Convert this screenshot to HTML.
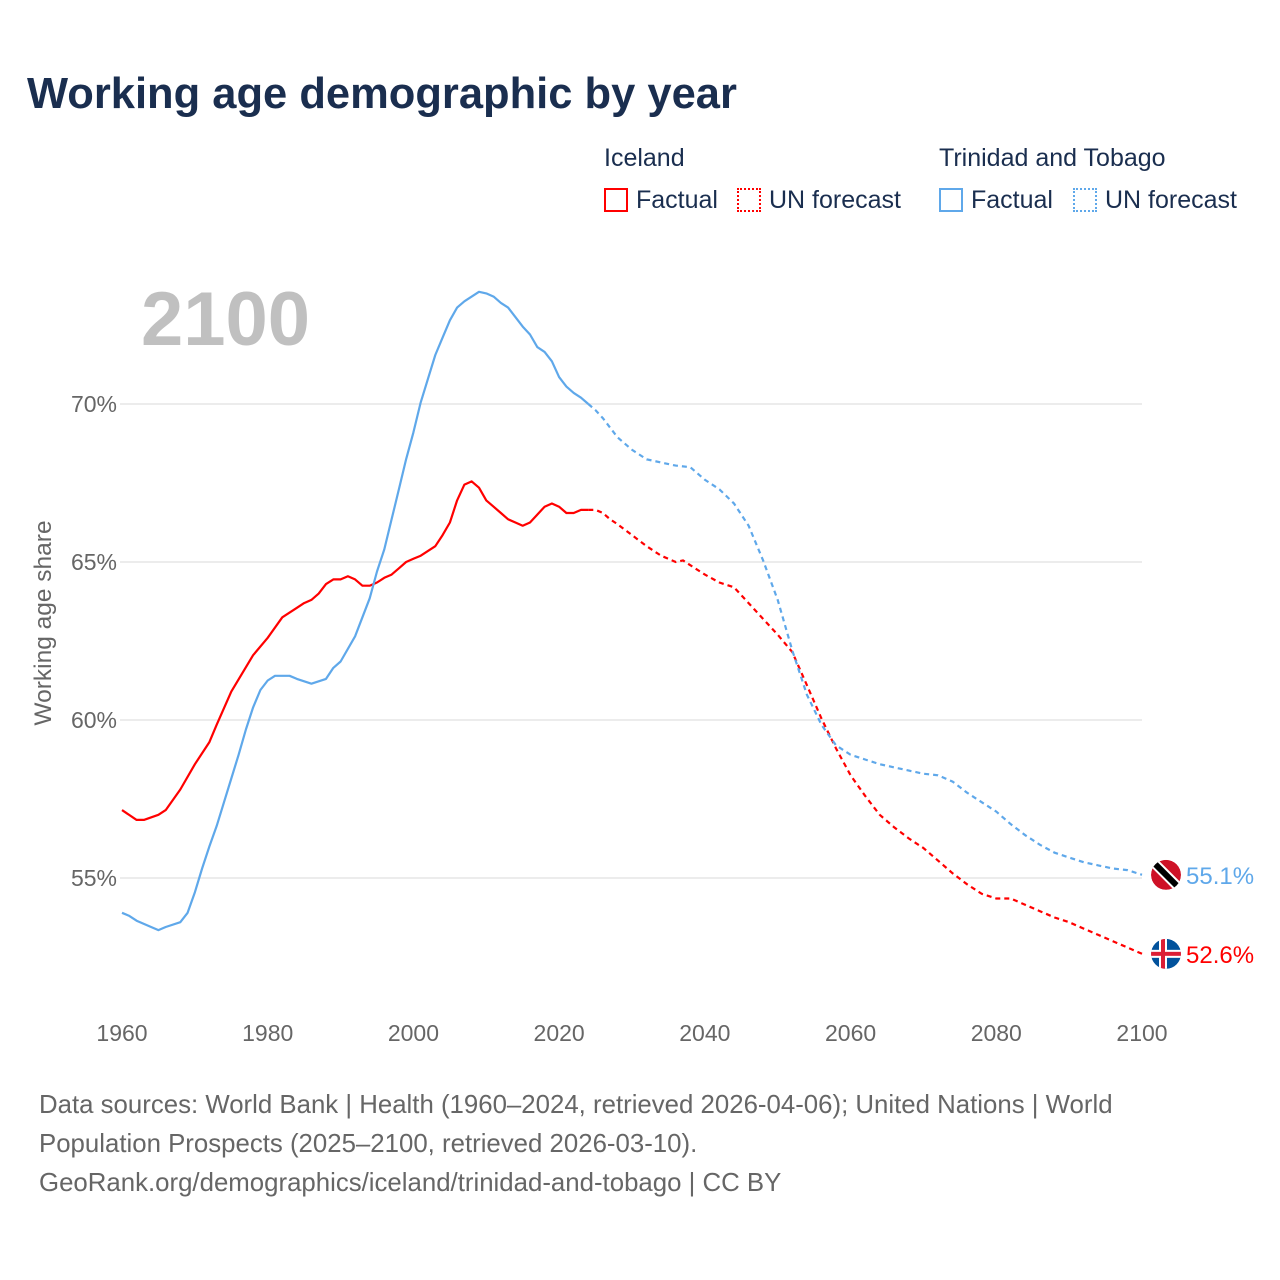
<!DOCTYPE html>
<html><head><meta charset="utf-8"><style>
body{margin:0;background:#fff;font-family:"Liberation Sans",sans-serif;}
#wrap{position:relative;width:1280px;height:1280px;overflow:hidden;}
.t{position:absolute;white-space:nowrap;}
</style></head><body>
<div id="wrap">
<div class="t" style="left:27px;top:70px;font-size:43.5px;font-weight:bold;color:#1a2e4f;">Working age demographic by year</div>
<div class="t" style="left:604px;top:144px;font-size:25px;color:#1a2e4f;">Iceland</div>
<div class="t" style="left:939px;top:144px;font-size:25px;color:#1a2e4f;">Trinidad and Tobago</div>
<div class="t" style="left:604px;top:186px;font-size:25px;color:#1a2e4f;"><span style="display:inline-block;width:20px;height:20px;border:2px solid #f00;vertical-align:-4px;margin-right:8px"></span>Factual</div>
<div class="t" style="left:737px;top:186px;font-size:25px;color:#1a2e4f;"><span style="display:inline-block;width:20px;height:20px;border:2px dotted #f00;vertical-align:-4px;margin-right:8px"></span>UN forecast</div>
<div class="t" style="left:939px;top:186px;font-size:25px;color:#1a2e4f;"><span style="display:inline-block;width:20px;height:20px;border:2px solid #5fa8ea;vertical-align:-4px;margin-right:8px"></span>Factual</div>
<div class="t" style="left:1073px;top:186px;font-size:25px;color:#1a2e4f;"><span style="display:inline-block;width:20px;height:20px;border:2px dotted #5fa8ea;vertical-align:-4px;margin-right:8px"></span>UN forecast</div>
<div class="t" style="left:141px;top:276px;font-size:76px;font-weight:bold;color:#c0c0c0;">2100</div>
<svg id="plot" width="1280" height="1280" style="position:absolute;left:0;top:0"></svg>
<div class="t" style="left:39px;top:1086px;font-size:25.8px;line-height:39px;color:#666;">Data sources: World Bank | Health (1960–2024, retrieved 2026-04-06); United Nations | World<br>Population Prospects (2025–2100, retrieved 2026-03-10).<br>GeoRank.org/demographics/iceland/trinidad-and-tobago | CC BY</div>
</div>
<script>
const isYears=[1960,1962,1963,1965,1966,1968,1970,1972,1973,1975,1978,1980,1982,1983,1984,1985,1986,1987,1988,1989,1990,1991,1992,1993,1994,1995,1996,1997,1998,1999,2000,2001,2002,2003,2004,2005,2006,2007,2008,2009,2010,2011,2012,2013,2014,2015,2016,2017,2018,2019,2020,2021,2022,2023,2024,2025,2026,2027,2028,2030,2032,2034,2036,2037,2038,2040,2042,2044,2046,2048,2050,2052,2054,2056,2058,2060,2062,2064,2066,2068,2070,2072,2074,2076,2078,2080,2082,2084,2086,2088,2090,2092,2094,2096,2098,2100];
const isValues=[57.15,56.84,56.84,57.0,57.15,57.8,58.6,59.3,59.85,60.9,62.05,62.6,63.25,63.4,63.55,63.7,63.8,64.0,64.3,64.45,64.45,64.55,64.45,64.25,64.25,64.35,64.5,64.6,64.8,65.0,65.1,65.2,65.35,65.5,65.85,66.25,66.95,67.45,67.55,67.35,66.95,66.75,66.55,66.35,66.25,66.15,66.25,66.5,66.75,66.85,66.75,66.55,66.55,66.65,66.65,66.65,66.55,66.35,66.2,65.85,65.5,65.2,65.0,65.05,64.9,64.6,64.35,64.2,63.7,63.2,62.7,62.15,61.1,60.05,59.1,58.25,57.6,57.0,56.6,56.25,55.95,55.55,55.15,54.8,54.5,54.35,54.35,54.15,53.95,53.75,53.6,53.4,53.2,53.0,52.8,52.6];
const ttYears=[1960,1961,1962,1964,1965,1966,1968,1969,1970,1971,1972,1973,1974,1975,1976,1977,1978,1979,1980,1981,1982,1983,1984,1986,1988,1989,1990,1992,1993,1994,1995,1996,1997,1998,1999,2000,2001,2002,2003,2004,2005,2006,2007,2008,2009,2010,2011,2012,2013,2014,2015,2016,2017,2018,2019,2020,2021,2022,2023,2024,2025,2026,2028,2030,2032,2034,2036,2038,2040,2042,2044,2046,2048,2050,2052,2054,2056,2058,2060,2062,2064,2066,2068,2070,2072,2074,2076,2078,2080,2082,2084,2086,2088,2090,2092,2094,2096,2098,2100];
const ttValues=[53.9,53.8,53.65,53.45,53.35,53.45,53.6,53.9,54.55,55.3,56.0,56.65,57.4,58.15,58.9,59.7,60.4,60.95,61.25,61.4,61.4,61.4,61.3,61.15,61.3,61.65,61.85,62.65,63.25,63.85,64.7,65.4,66.35,67.3,68.25,69.1,70.05,70.8,71.55,72.1,72.65,73.05,73.25,73.4,73.55,73.5,73.4,73.2,73.05,72.75,72.45,72.2,71.8,71.65,71.35,70.85,70.55,70.35,70.2,70.0,69.8,69.55,68.95,68.55,68.25,68.15,68.05,68.0,67.6,67.3,66.85,66.15,65.05,63.8,62.2,60.8,59.85,59.2,58.9,58.75,58.6,58.5,58.4,58.3,58.25,58.05,57.7,57.4,57.1,56.7,56.35,56.05,55.8,55.65,55.5,55.4,55.3,55.25,55.1];
const yTicks=[55,60,65,70];
const xTicks=[1960,1980,2000,2020,2040,2060,2080,2100];
const lastFactualYear=2024;
const X=y=>122+(y-1960)*(1020/140);
const Y=v=>404-(v-70)*31.6;
const svg=document.getElementById('plot');const NS='http://www.w3.org/2000/svg';
function mk(t,a){const e=document.createElementNS(NS,t);for(const k in a)e.setAttribute(k,a[k]);svg.appendChild(e);return e;}
yTicks.forEach(v=>{
 const g=mk('line',{x1:120,x2:1142,y1:Y(v),y2:Y(v),stroke:'#e6e6e6','stroke-width':1.5});
 
 
 const t=mk('text',{x:117,y:Y(v)+8,'text-anchor':'end','font-size':23,fill:'#666','font-family':'Liberation Sans'});t.textContent=v+'%';
 
 
});
xTicks.forEach(v=>{
 const t=mk('text',{x:X(v),y:1041,'text-anchor':'middle','font-size':23,fill:'#666','font-family':'Liberation Sans'});t.textContent=v;
 
 
});
const yt=mk('text',{x:0,y:0,transform:'translate(51,623) rotate(-90)','text-anchor':'middle','font-size':24.5,fill:'#666','font-family':'Liberation Sans'});yt.textContent='Working age share';


function series(years,vals,color,name){
 const f=[],p=[];
 years.forEach((y,i)=>{const pt=X(y).toFixed(1)+','+Y(vals[i]).toFixed(1);if(y<=lastFactualYear)f.push(pt);if(y>=lastFactualYear)p.push(pt);});
 const a=mk('polyline',{points:f.join(' '),fill:'none',stroke:color,'stroke-width':2.2,'stroke-linejoin':'round'});
 
 
 const b=mk('polyline',{points:p.join(' '),fill:'none',stroke:color,'stroke-width':2.2,'stroke-dasharray':'5,4'});
 
 
 const lv=vals[vals.length-1];
 const t=mk('text',{x:1186,y:Y(lv)+9,'font-size':24,fill:color,'font-family':'Liberation Sans'});t.textContent=lv.toFixed(1)+'%';
 
 
 return Y(lv);
}
const yi=series(isYears,isValues,'#ff0000','iceland');
const ytt=series(ttYears,ttValues,'#5fa8ea','trinidad');
const cx=1166;
let d=mk('clipPath',{id:'c1'});d.innerHTML='<circle cx="'+cx+'" cy="'+ytt+'" r="15"/>';
let g=mk('g',{'clip-path':'url(#c1)'});


g.innerHTML='<circle cx="'+cx+'" cy="'+ytt+'" r="15" fill="#ce1126"/><line x1="'+(cx-14)+'" y1="'+(ytt-14)+'" x2="'+(cx+14)+'" y2="'+(ytt+14)+'" stroke="#fff" stroke-width="10"/><line x1="'+(cx-14)+'" y1="'+(ytt-14)+'" x2="'+(cx+14)+'" y2="'+(ytt+14)+'" stroke="#000" stroke-width="6"/>';
d=mk('clipPath',{id:'c2'});d.innerHTML='<circle cx="'+cx+'" cy="'+yi+'" r="15"/>';
g=mk('g',{'clip-path':'url(#c2)'});


g.innerHTML='<circle cx="'+cx+'" cy="'+yi+'" r="15" fill="#02529c"/><rect x="'+(cx-15)+'" y="'+(yi-4)+'" width="30" height="8" fill="#fff"/><rect x="'+(cx-7)+'" y="'+(yi-15)+'" width="8" height="30" fill="#fff"/><rect x="'+(cx-15)+'" y="'+(yi-2)+'" width="30" height="4" fill="#dc1e35"/><rect x="'+(cx-5)+'" y="'+(yi-15)+'" width="4" height="30" fill="#dc1e35"/>';
</script>
</body></html>
